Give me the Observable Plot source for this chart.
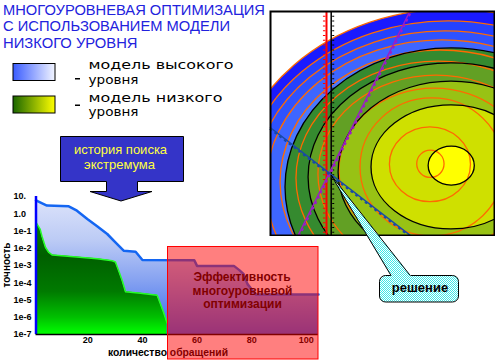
<!DOCTYPE html>
<html>
<head>
<meta charset="utf-8">
<script src="https://cdn.jsdelivr.net/npm/d3@7"></script>
<script src="https://cdn.jsdelivr.net/npm/@observablehq/plot@0.6"></script>
<style>
html,body{margin:0;padding:0;background:#fff;}
#root{position:relative;width:500px;height:360px;overflow:hidden;background:#fff;}
#root > *{position:absolute;}
#under,#over{left:0;top:0;}
#over{pointer-events:none;}
#main{left:0;top:185px;}
#panel{left:269px;top:10px;}
#main svg,#panel svg{display:block;}
</style>
</head>
<body>
<div id="root">
<svg id="under" width="500" height="360">
  <defs>
    <linearGradient id="gBlue" x1="0" y1="0" x2="0" y2="1">
      <stop offset="0" stop-color="#dbe2fa"/>
      <stop offset="0.3" stop-color="#bccbf5"/>
      <stop offset="0.6" stop-color="#86a2f1"/>
      <stop offset="1" stop-color="#3566ee"/>
    </linearGradient>
    <linearGradient id="gGreen" x1="0" y1="0" x2="0" y2="1">
      <stop offset="0" stop-color="#008000"/>
      <stop offset="0.3" stop-color="#005f00"/>
      <stop offset="0.62" stop-color="#007a00"/>
      <stop offset="0.85" stop-color="#00c000"/>
      <stop offset="1" stop-color="#00ff00"/>
    </linearGradient>
    <linearGradient id="legHi" x1="0" y1="0" x2="1" y2="0">
      <stop offset="0" stop-color="#3a5cff"/>
      <stop offset="1" stop-color="#f2f5ff"/>
    </linearGradient>
    <linearGradient id="legLo" x1="0" y1="0" x2="1" y2="0">
      <stop offset="0" stop-color="#1a6600"/>
      <stop offset="1" stop-color="#ffff00"/>
    </linearGradient>
  </defs>
  <g font-family="Liberation Sans, Arial, sans-serif" fill="#2222dd" font-size="15.5">
    <text x="3" y="15" textLength="262" lengthAdjust="spacingAndGlyphs">МНОГОУРОВНЕВАЯ ОПТИМИЗАЦИЯ</text>
    <text x="3" y="31" textLength="227" lengthAdjust="spacingAndGlyphs">С ИСПОЛЬЗОВАНИЕМ МОДЕЛИ</text>
    <text x="3" y="48" textLength="134.5" lengthAdjust="spacingAndGlyphs">НИЗКОГО УРОВНЯ</text>
  </g>
  <rect x="13" y="63.5" width="42" height="17" fill="url(#legHi)" stroke="#000" stroke-width="1"/>
  <rect x="13" y="96" width="42" height="17" fill="url(#legLo)" stroke="#000" stroke-width="1"/>
  <rect x="75" y="78" width="5" height="1.5" fill="#000"/>
  <rect x="75" y="104.5" width="5" height="1.5" fill="#000"/>
  <g font-family="DejaVu Sans, sans-serif" fill="#000" font-size="12.5">
    <text x="88.5" y="69.2" textLength="145" lengthAdjust="spacingAndGlyphs">модель высокого</text>
    <text x="88.5" y="83.8" textLength="50" lengthAdjust="spacingAndGlyphs">уровня</text>
    <text x="88.5" y="101.8" textLength="134" lengthAdjust="spacingAndGlyphs">модель низкого</text>
    <text x="88.5" y="116.4" textLength="50" lengthAdjust="spacingAndGlyphs">уровня</text>
  </g>
</svg>
<div id="main"></div>
<div id="panel"></div>
<svg id="over" width="500" height="360">
  <defs>
    <pattern id="cyanDither" width="2" height="2" patternUnits="userSpaceOnUse">
      <rect x="0" y="0" width="2" height="2" fill="#ffffff"/>
      <rect x="0" y="0" width="1" height="1" fill="#3ee8e8"/>
      <rect x="1" y="1" width="1" height="1" fill="#3ee8e8"/>
    </pattern>
  </defs>
  <polygon points="60.5,136.5 183.5,136.5 183.5,181.5 137.5,181.5 137.5,191.5 152,191.5 121,201 90,191.5 106.5,191.5 106.5,181.5 60.5,181.5" fill="#3434c8" stroke="#000" stroke-width="1"/>
  <g font-family="Liberation Sans, Arial, sans-serif" fill="#ffff40" font-size="13" text-anchor="middle">
    <text x="120.5" y="153.5">история поиска</text>
    <text x="119.5" y="168.5">экстремума</text>
  </g>
  <g font-family="Liberation Sans, Arial, sans-serif" fill="#000" font-weight="bold">
    <text transform="translate(9.5,265) rotate(-90)" text-anchor="middle" font-size="10">точность</text>
    <text x="108" y="355.5" font-size="10.5" textLength="120" lengthAdjust="spacingAndGlyphs">количество обращений</text>
  </g>
  <g font-family="Liberation Sans, Arial, sans-serif" fill="#000" font-size="12" font-weight="bold" text-anchor="middle">
    <text x="242" y="280.8">Эффективность</text>
    <text x="242.5" y="294.6">многоуровневой</text>
    <text x="242.5" y="308.4">оптимизации</text>
  </g>
  <rect x="167.5" y="246.5" width="150.5" height="112.5" fill="#ff0000" fill-opacity="0.5" stroke="#ff0000" stroke-width="1"/>
  <rect x="379.5" y="275.5" width="79" height="26.5" rx="6" fill="url(#cyanDither)" stroke="#000" stroke-width="1"/>
  <polygon points="331,175 392.8,279 413.4,279" fill="url(#cyanDither)"/>
  <line x1="331" y1="175" x2="391" y2="275.5" stroke="#000" stroke-width="1"/>
  <line x1="331" y1="175" x2="410.2" y2="275.5" stroke="#000" stroke-width="1"/>
  <text x="420" y="291.5" font-family="Liberation Sans, Arial, sans-serif" font-weight="bold" font-size="13" text-anchor="middle" fill="#000">решение</text>
</svg>
</div>
<script>
// ---- search history: accuracy vs number of calls ----
const hiCalls = [1, 2.5, 5, 13, 16, 19.8, 23.4, 27.1, 30.1, 33.2, 37.5, 40, 59, 60, 73.5, 75.5, 77, 78.5, 81.5, 104.5];
const hiAccuracy = [5.9, 4.6, 3.0, 2.7, 1.5, 0.5, 0.19, 0.067, 0.022, 0.0071, 0.0063, 0.0021, 0.002, 0.00095, 0.00095, 0.00054, 0.00033, 0.000083, 0.000021, 0.000021];
const loCalls = [1, 2.5, 3.3, 4.5, 5.7, 7, 13.7, 23.4, 28.9, 30.1, 31.3, 32.6, 33.8, 39.3, 45.4, 46.6, 47.8, 49];
const loAccuracy = [0.32, 0.13, 0.043, 0.011, 0.0057, 0.004, 0.0033, 0.0025, 0.0019, 0.0016, 0.00049, 0.00013, 0.00003, 0.0000245, 0.000019, 0.0000059, 0.0000018, 0.00000048];
const yTickValues = [10, 1, 0.1, 0.01, 0.001, 0.0001, 0.00001, 0.000001, 0.0000001];
const yTickLabels = ["10.", "1.0", "1e-1", "1e-2", "1e-3", "1e-4", "1e-5", "1e-6", "1e-7"];
const xTickValues = [20, 40, 60, 80, 100];
const xTickLabels = ["20", "40", "60", "80", "100"];

// ---- contour map (map units 0..100) ----
// high-level model contours (orange lines, blue fills)
const hiRingX  = [80.8, 79.5, 78.1, 76.8, 75.9, 75.0, 74.1, 73.2, 72.3, 71.4, 71.6];
const hiRingY  = [15.6, 17.9, 20.1, 21.9, 23.7, 25.4, 27.2, 29.0, 30.4, 31.6, 31.8];
const hiRingRX = [99.1, 92.4, 85.7, 78.6, 71.4, 63.4, 52.7, 42.4, 32.1, 18.1, 6.1];
const hiRingRY = [85.3, 77.7, 71.0, 65.2, 58.9, 52.2, 44.2, 36.6, 30.8, 16.7, 6.1];
const hiRingFill = ["#1a1aff", "#2442ff", "#2e52ff", "#3e66ff", "#4a78ff", "#4a78ff", "#4a78ff", "#4a78ff", "#4a78ff", "#4a78ff", "#4a78ff"];
// low-level model contours (black lines, green/yellow fills)
const loRingX  = [80.8, 80.8, 80.8, 80.8, 80.9];
const loRingY  = [21.4, 25.9, 28.1, 30.4, 31.0];
const loRingRX = [74.1, 63.8, 50.4, 35.7, 10.3];
const loRingRY = [62.1, 50.9, 40.6, 27.7, 8.7];
const loRingFill = ["#358a2f", "#62a024", "#98c214", "#cfe000", "#ffff00"];
// constraints
const redConstraint = [25.0];
const blackConstraint = [27.1];
const purpleLineX = [12.3, 62.2];
const purpleLineY = [0, 100];
const blueLineX = [0, 62.5];
const blueLineY = [48.1, 0];

const hi = hiCalls.map((x, i) => ({x, v: hiAccuracy[i]}));
const lo = loCalls.map((x, i) => ({x, v: loAccuracy[i]}));
const yTicks = yTickValues.map((v, i) => ({v, label: yTickLabels[i]}));
const xTicks = xTickValues.map((v, i) => ({v, label: xTickLabels[i]}));
const hiRings = hiRingX.map((x, i) => ({x, y: hiRingY[i], rx: hiRingRX[i], ry: hiRingRY[i], fill: hiRingFill[i]}));
const loRings = loRingX.map((x, i) => ({x, y: loRingY[i], rx: loRingRX[i], ry: loRingRY[i], fill: loRingFill[i]}));
const purple = purpleLineX.map((x, i) => ({x, y: purpleLineY[i]}));
const blueDiag = blueLineX.map((x, i) => ({x, y: blueLineY[i]}));

const font = "Liberation Sans, Arial, sans-serif";

const main = Plot.plot({
  width: 330, height: 175,
  marginLeft: 35.5, marginRight: 12, marginTop: 11, marginBottom: 26,
  style: {background: "transparent"},
  x: {domain: [1, 104.5], axis: null},
  y: {type: "log", domain: [1e-7, 10], axis: null},
  marks: [
    Plot.areaY(hi, {x: "x", y1: 1e-7, y2: "v", fill: "url(#gBlue)"}),
    Plot.areaY(lo, {x: "x", y1: 1e-7, y2: "v", fill: "url(#gGreen)"}),
    Plot.line(lo, {x: "x", y: "v", stroke: "#26ff26", strokeWidth: 1.5}),
    Plot.line(hi, {x: "x", y: "v", stroke: "#1466f2", strokeWidth: 2.5}),
    Plot.ruleX([1], {stroke: "#0000ff", strokeWidth: 2.5}),
    Plot.ruleY([1e-7], {stroke: "#000", strokeWidth: 1.5}),
    Plot.text(yTicks, {y: "v", text: "label", frameAnchor: "left", textAnchor: "start", dx: -22.5, fontSize: 9, fontWeight: "bold", fontFamily: font, fill: "#000"}),
    Plot.text(xTicks, {x: "v", text: "label", frameAnchor: "bottom", dy: 8, fontSize: 9, fontWeight: "bold", fontFamily: font, fill: "#000"})
  ]
});
document.getElementById("main").appendChild(main);

const ell = {x1: d => d.x - d.rx, x2: d => d.x + d.rx, y1: d => d.y - d.ry, y2: d => d.y + d.ry, rx: 1000, ry: 1000, clip: true};
const panel = Plot.plot({
  width: 226, height: 226, margin: 1,
  style: {background: "#fff"},
  x: {domain: [0, 100], axis: null},
  y: {domain: [0, 100], axis: null},
  color: {type: "identity"},
  marks: [
    Plot.rect(hiRings, {...ell, fill: "fill"}),
    Plot.rect(loRings, {...ell, fill: "fill"}),
    Plot.rect(hiRings, {...ell, fill: "none", stroke: "#ff6a00", strokeWidth: 1.3}),
    Plot.rect(loRings, {...ell, fill: "none", stroke: "#000", strokeWidth: 1.3}),
    Plot.ruleX(redConstraint, {stroke: "#ff0000", strokeWidth: 2}),
    Plot.ruleX(redConstraint, {stroke: "#ff0000", strokeWidth: 2.5, dx: -2.3, strokeDasharray: "1 3.8"}),
    Plot.ruleX(blackConstraint, {stroke: "#000", strokeWidth: 1.5}),
    Plot.ruleX(blackConstraint, {stroke: "#000", strokeWidth: 2, dx: 2, strokeDasharray: "1 3.8"}),
    Plot.line(purple, {x: "x", y: "y", stroke: "#9b1cc8", strokeWidth: 1.5}),
    Plot.line(purple, {x: "x", y: "y", stroke: "#9b1cc8", strokeWidth: 2, dx: 1.5, strokeDasharray: "1 5"}),
    Plot.line(blueDiag, {x: "x", y: "y", stroke: "#1848a8", strokeWidth: 1.5}),
    Plot.line(blueDiag, {x: "x", y: "y", stroke: "#1848a8", strokeWidth: 2, dy: 1.5, strokeDasharray: "1 5"}),
    Plot.frame({stroke: "#000", strokeWidth: 2})
  ]
});
document.getElementById("panel").appendChild(panel);
</script>
</body>
</html>
